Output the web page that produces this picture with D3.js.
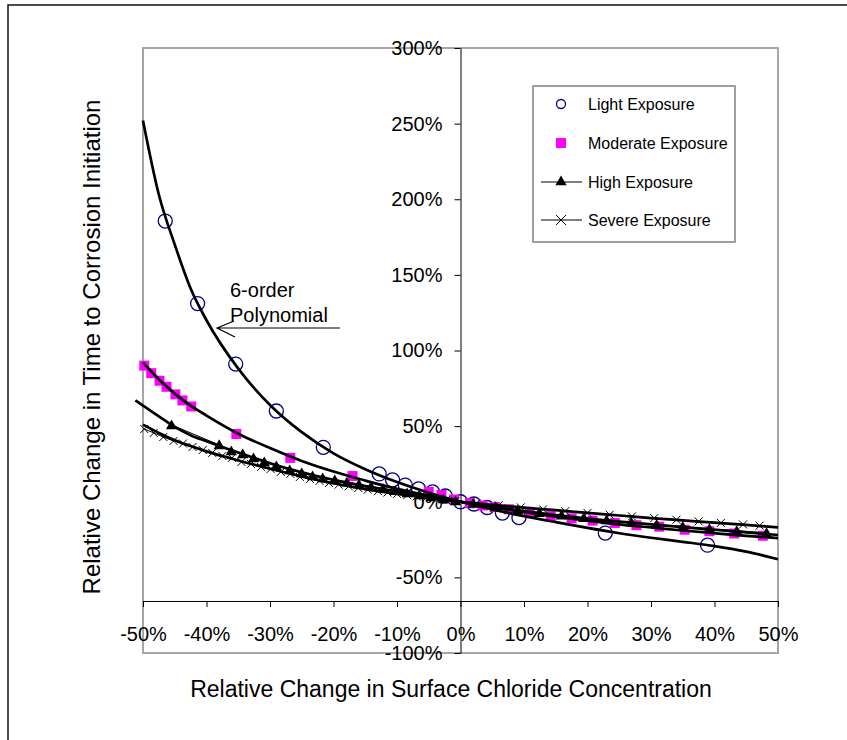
<!DOCTYPE html>
<html>
<head>
<meta charset="utf-8">
<script src="https://cdn.jsdelivr.net/npm/d3@7/dist/d3.min.js"></script>
<style>
  body { margin: 0; background: #fff; }
  svg { display: block; font-family: "Liberation Sans", Arial, sans-serif; }
</style>
</head>
<body>
<div id="chart"></div>
<script>
// x = relative change in surface chloride (%), y = relative change in time to initiation (%)
const lightX = [-46.5, -41.4, -35.4, -29.0, -21.6, -12.8, -10.7, -8.7, -6.6, -4.4, -2.4, 0, 2.1, 4.2, 6.6, 9.2, 22.8, 38.9];
const lightY = [185.6, 131, 91, 60, 36, 18.4, 14.4, 11, 8.5, 6.5, 3.8, 0, -1.5, -3.8, -7.5, -10.5, -20.7, -28.7];

const modX = [-49.8, -48.7, -47.4, -46.3, -44.9, -43.8, -42.4, -35.3, -26.8, -17.0, -5.0, -3.0, -1.0, 1.5, 3.5,
  5.4, 7.6, 10.9, 14.2, 17.5, 20.8, 24.3, 27.7, 31.3, 35.3, 39.2, 43.1, 47.6];
const modY = [90, 85, 80, 76, 71, 67, 63, 44.8, 29, 17, 6.5, 4.5, 1.5, -1, -2.5,
  -3.5, -5, -7.5, -9.5, -11, -12.5, -14, -15.5, -16.5, -18.5, -19.5, -21, -22.5];

const highX = [-45.5, -38.0, -36.1, -34.3, -32.6, -30.9, -29.0, -26.9, -25.0, -23.3, -21.7, -19.8, -17.9, -16.0,
  -14.1, -12.2, -10.3, -8.4, -6.5, -4.6, -2.7, -0.8, 2.0, 5.5, 9.0, 12.4, 15.9, 19.4, 23.0, 26.9, 30.9, 35.0,
  39.2, 43.5, 48.2];
const highY = [50.8, 37.6, 33.6, 31.6, 29.0, 26.3, 23.7, 21.0, 19.0, 17.1, 15.7, 14.3, 12.9, 11.5,
  10.1, 8.7, 7.2, 5.8, 4.4, 3.1, 1.8, 0.5, -1.2, -3.5, -5.6, -7.3, -9.0, -10.6, -12.1, -13.6, -15.0, -16.4,
  -17.8, -19.1, -20.5];

const severeX = [-49.8, -48.3, -46.8, -45.2, -43.7, -42.2, -40.6, -39.1, -37.5, -36.0, -34.5, -33.0, -31.4,
  -29.9, -28.3, -26.8, -25.3, -23.7, -22.2, -20.7, -19.2, -17.6, -16.1, -14.6, -13.0, -11.5, -10.0, -8.4,
  -6.9, -5.4, -3.8, -2.3, -0.8, 2.5, 6.0, 9.5, 13.0, 16.5, 20.0, 23.5, 27.0, 30.5, 34.0, 37.5, 41.0, 44.5, 47.1];
const severeY = [48.1, 45.5, 42.8, 40.2, 38.5, 36.2, 34.2, 32.3, 30.3, 29.0, 26.3, 25.0, 23.0,
  21.7, 19.7, 18.4, 16.4, 15.1, 13.8, 12.4, 11.3, 10.2, 9.1, 8.0, 7.0, 6.1, 5.2, 4.3,
  3.5, 2.7, 1.9, 1.1, 0.4, -1.0, -2.4, -3.7, -5.0, -6.2, -7.4, -8.6, -9.7, -10.8, -11.9, -13.0, -14.0, -15.0, -15.8];

// 6-order polynomial trendlines
const trendX = [-50, -47.5, -45, -42.5, -40, -35, -30, -25, -20, -15, -10, -5, 0, 5, 10, 15, 20, 25, 30, 35, 40, 45, 50];
const trendLight = [252, 203, 170, 141, 120, 88, 64, 46, 32, 21.5, 13, 6, 0, -5, -9.5, -13.5, -17.3, -20.8, -23.8, -26.5, -29.3, -33, -38];
const trendMod = [92, 81, 71.5, 63.5, 57, 45, 35.5, 27, 20, 14, 8.5, 4, 0, -3.5, -6.8, -9.8, -12.5, -15, -17, -19, -20.8, -22.5, -24];
const trendSevere = [51, 45.5, 40.7, 36.8, 33.3, 27.3, 21.8, 16.8, 12.2, 8.3, 5.2, 2.5, 0, -2, -3.9, -5.6, -7.4, -9.1, -10.8, -12.3, -13.8, -15.3, -17];
const trendHighX = [-51.2, -50, -47.5, -45, -42.5, -40, -35, -30, -25, -20, -15, -10, -5, 0, 5, 10, 15, 20, 25, 30, 35, 40, 45, 50];
const trendHigh = [67, 63.5, 56.5, 49.5, 44, 40, 32.5, 25.5, 19.5, 14.5, 10.3, 6.8, 3.4, 0, -3.2, -6.2, -8.8, -11.1, -13.1, -15, -16.8, -18.5, -20.2, -22];

const xTicks = [-50, -40, -30, -20, -10, 0, 10, 20, 30, 40, 50];
const yTicks = [-100, -50, 0, 50, 100, 150, 200, 250, 300];
const xAxisCross = -65.6;

const width = 847, height = 740;
const svg = d3.select("#chart").append("svg")
  .attr("width", width)
  .attr("height", height);

svg.append("rect").attr("width", width).attr("height", height).attr("fill", "#fff");
// outer chart border (runs off the right/bottom of the picture)
svg.append("rect")
  .attr("x", 8).attr("y", 5).attr("width", 900).attr("height", 800)
  .attr("fill", "none").attr("stroke", "#111").attr("stroke-width", 1.5);

const x = d3.scaleLinear().domain([-50, 50]).range([143, 778]);
const y = d3.scaleLinear().domain([-100, 300]).range([653, 48]);

// plot area
svg.append("rect")
  .attr("x", x(-50)).attr("y", y(300))
  .attr("width", x(50) - x(-50)).attr("height", y(-100) - y(300))
  .attr("fill", "none").attr("stroke", "#a6a6a6").attr("stroke-width", 2);

const pct = d => d + "%";

const yAxis = svg.append("g")
  .attr("transform", `translate(${x(0)},0)`)
  .call(d3.axisLeft(y).tickValues(yTicks).tickFormat(pct).tickSize(6).tickSizeOuter(0).tickPadding(12));
const xAxis = svg.append("g")
  .attr("transform", `translate(0,${y(xAxisCross)})`)
  .call(d3.axisBottom(x).tickValues(xTicks).tickFormat(pct).tickSize(6).tickSizeOuter(0).tickPadding(20));
[yAxis, xAxis].forEach(g => {
  g.selectAll("text").attr("font-size", 20).attr("fill", "#000")
    .attr("font-family", "'Liberation Sans', Arial, sans-serif");
  g.selectAll("line, path").attr("stroke", "#000");
});

// series connecting lines (High and Severe only)
const line = d3.line().x(d => x(d[0])).y(d => y(d[1]));
const zip = (a, b) => a.map((v, i) => [v, b[i]]);

svg.append("path").datum(zip(highX, highY)).attr("d", line)
  .attr("fill", "none").attr("stroke", "#000").attr("stroke-width", 1);
svg.append("path").datum(zip(severeX, severeY)).attr("d", line)
  .attr("fill", "none").attr("stroke", "#000").attr("stroke-width", 1);

// markers
const sym = (type, size) => d3.symbol().type(type).size(size)();

svg.append("g").selectAll("circle").data(zip(lightX, lightY)).join("circle")
  .attr("cx", d => x(d[0])).attr("cy", d => y(d[1])).attr("r", 7)
  .attr("fill", "none").attr("stroke", "#000080").attr("stroke-width", 1.3);

svg.append("g").selectAll("rect").data(zip(modX, modY)).join("rect")
  .attr("x", d => x(d[0]) - 5).attr("y", d => y(d[1]) - 5).attr("width", 10).attr("height", 10)
  .attr("fill", "#ff00ff");

svg.append("g").selectAll("path").data(zip(highX, highY)).join("path")
  .attr("transform", d => `translate(${x(d[0])},${y(d[1]) + 1})`)
  .attr("d", sym(d3.symbolTriangle, 55))
  .attr("fill", "#000");

svg.append("g").selectAll("path").data(zip(severeX, severeY)).join("path")
  .attr("transform", d => `translate(${x(d[0])},${y(d[1])})`)
  .attr("d", "M-4,-4L4,4M-4,4L4,-4")
  .attr("stroke", "#000").attr("stroke-width", 1);

// trendlines on top
const trend = d3.line().x(d => x(d[0])).y(d => y(d[1])).curve(d3.curveMonotoneX);
[[trendX, trendLight], [trendX, trendMod], [trendHighX, trendHigh], [trendX, trendSevere]].forEach(([xs, ys]) => {
  svg.append("path").datum(zip(xs, ys)).attr("d", trend)
    .attr("fill", "none").attr("stroke", "#000").attr("stroke-width", 2.7);
});

// annotation
svg.append("text").attr("x", 230).attr("y", 297).attr("font-size", 20).text("6-order");
svg.append("text").attr("x", 230).attr("y", 322).attr("font-size", 20).text("Polynomial");
svg.append("path")
  .attr("d", "M340,328L217,328M234,321L217,328L235,337")
  .attr("fill", "none").attr("stroke", "#000").attr("stroke-width", 1.2);

// axis titles
svg.append("text")
  .attr("x", 451).attr("y", 697)
  .attr("text-anchor", "middle").attr("font-size", 23)
  .text("Relative Change in Surface Chloride Concentration");
svg.append("text")
  .attr("transform", "translate(100,347) rotate(-90)")
  .attr("text-anchor", "middle").attr("font-size", 24)
  .text("Relative Change in Time to Corrosion Initiation");

// legend
const legend = svg.append("g");
legend.append("rect")
  .attr("x", 533).attr("y", 86).attr("width", 202).attr("height", 156)
  .attr("fill", "#fff").attr("stroke", "#808080").attr("stroke-width", 1.5);
const legendNames = ["Light Exposure", "Moderate Exposure", "High Exposure", "Severe Exposure"];
const legendY = [104, 143, 182, 220];
legendNames.forEach((name, i) => {
  const cy = legendY[i], cx = 561;
  if (i === 0) {
    legend.append("circle").attr("cx", cx).attr("cy", cy).attr("r", 4.5)
      .attr("fill", "none").attr("stroke", "#000080").attr("stroke-width", 1.3);
  } else if (i === 1) {
    legend.append("rect").attr("x", cx - 5).attr("y", cy - 5).attr("width", 10).attr("height", 10)
      .attr("fill", "#ff00ff");
  } else {
    legend.append("line").attr("x1", 541).attr("x2", 582).attr("y1", cy).attr("y2", cy)
      .attr("stroke", "#000").attr("stroke-width", 1);
    if (i === 2) {
      legend.append("path").attr("transform", `translate(${cx},${cy})`)
        .attr("d", sym(d3.symbolTriangle, 55)).attr("fill", "#000");
    } else {
      legend.append("path").attr("transform", `translate(${cx},${cy})`)
        .attr("d", "M-5,-5L5,5M-5,5L5,-5").attr("stroke", "#000").attr("stroke-width", 1);
    }
  }
  legend.append("text").attr("x", 588).attr("y", cy).attr("dy", "0.35em")
    .attr("font-size", 16).text(name);
});
</script>
</body>
</html>
